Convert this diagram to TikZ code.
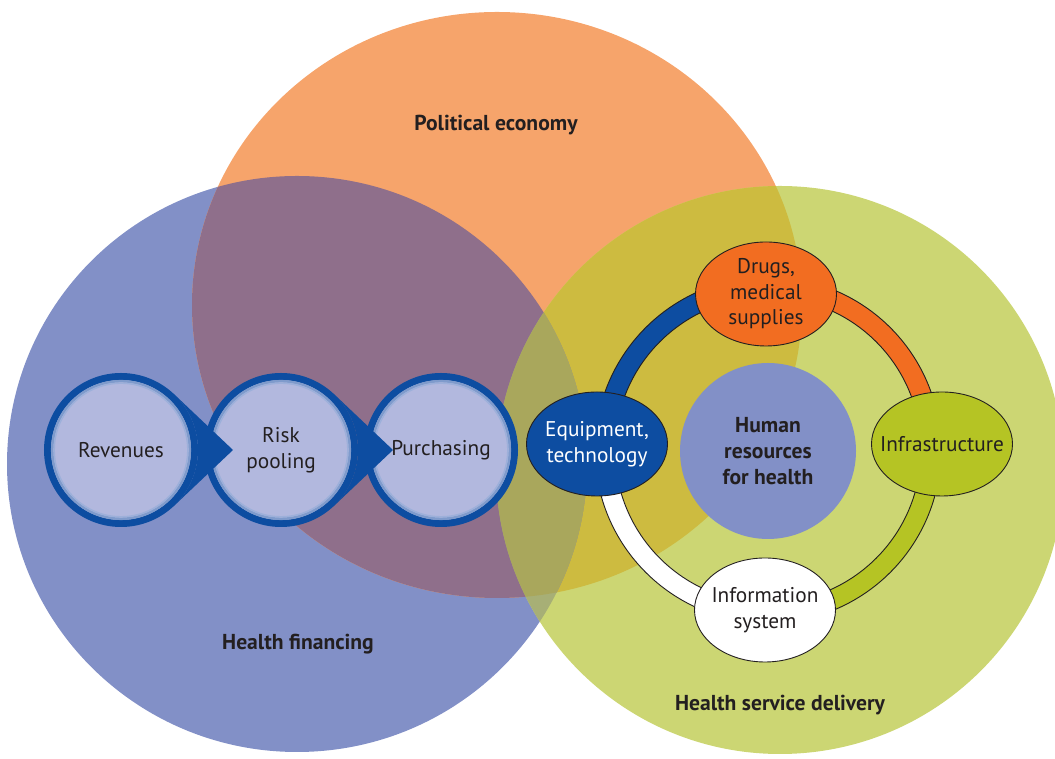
\documentclass[tikz,border=0pt]{standalone}
\usepackage{fontspec}
\setmainfont{PT Sans}
\usetikzlibrary{calc}
\usetikzlibrary{shapes}

\definecolor{finblue}{HTML}{8290C7}
\definecolor{polorange}{HTML}{F6A46B}
\definecolor{delgreen}{HTML}{CCD673}
\definecolor{finpol}{HTML}{8F6F8B}
\definecolor{poldel}{HTML}{CDBB40}
\definecolor{findel}{HTML}{A7AF76}
\definecolor{allthree}{HTML}{A9A75C}
\definecolor{deepblue}{HTML}{0D4DA1}
\definecolor{ringmid}{HTML}{7F9BCC}
\definecolor{ringpale}{HTML}{9DB0DA}
\definecolor{lavender}{HTML}{B2B8DE}
\definecolor{drugorange}{HTML}{F26D21}
\definecolor{infragreen}{HTML}{B5C424}
\definecolor{ink}{HTML}{231F20}

\tikzset{
	stage/.style={circle, fill=lavender, draw=deepblue, line width=7pt, minimum size=147pt, inner sep=0pt, align=center, text=ink, font=\fontsize{21.3}{26}\selectfont},
	pillar/.style={ellipse, draw=ink, line width=0.9pt, minimum width=141pt, minimum height=104pt, inner sep=-14pt, align=center, text=ink, font=\fontsize{21.3}{25.5}\selectfont},
	sphere/.style={text=ink, font=\fontsize{21.6}{26}\selectfont\bfseries}
}

\begin{document}
\begin{tikzpicture}[x=1pt, y=1pt]
	\useasboundingbox (0,0) rectangle (1055,759);
	% the three domains and their overlaps
	\fill[finblue] (297,295) ellipse[x radius=290, y radius=288];
	\fill[polorange] (497,454) ellipse[x radius=305, y radius=293];
	\fill[delgreen] (780,289) circle[radius=284];
	\begin{scope}
		\clip (497,454) ellipse[x radius=305, y radius=293];
		\fill[poldel] (780,289) circle[radius=284];
	\end{scope}
	\begin{scope}
		\clip (297,295) ellipse[x radius=290, y radius=288];
		\fill[finpol] (497,454) ellipse[x radius=305, y radius=293];
		\fill[findel] (780,289) circle[radius=284];
		\clip (497,454) ellipse[x radius=305, y radius=293];
		\fill[allthree] (780,289) circle[radius=284];
	\end{scope}
	\node[sphere] (pol) at (496,634) {Political economy};
	\node[sphere] (fin) at (298,115) {Health financing};
	\node[sphere] (del) at (780,54) {Health service delivery};

	% financing chain
	\node[stage] (rev) at (121,309) {Revenues};
	\node[stage] (pool) at (281,309) {Risk\\pooling};
	\node[stage] (pur) at (441,309) {Purchasing};
	\foreach \s in {rev,pool,pur}{
		\draw[ringmid, line width=2.5pt] (\s) circle[radius=68.8];
		\draw[ringpale, line width=1.5pt] (\s) circle[radius=66.8];
	}
	\foreach \s in {rev,pool}
		\fill[deepblue] ([xshift=112pt]\s.center) -- ([shift={(46.6:77)}]\s.center) arc[start angle=46.6, end angle=-46.6, radius=77] -- cycle;

	% service delivery ring
	\coordinate (hub) at (768,309);
	\foreach \a/\b/\c in {90/180/deepblue, 0/90/drugorange, -90/0/infragreen, -180/-90/white}
		\filldraw[fill=\c, draw=ink, line width=0.9pt] ([shift={(\a:173)}]hub) arc[start angle=\a, end angle=\b, radius=173] -- ([shift={(\b:153)}]hub) arc[start angle=\b, end angle=\a, radius=153] -- cycle;
	\node[circle, fill=finblue, minimum size=176pt, inner sep=0pt, align=center, text=ink, font=\fontsize{21.6}{26}\selectfont\bfseries] (hrh) at (768,308) {Human\\resources\\for health};
	\node[pillar, fill=drugorange] (drugs) at (766,465) {Drugs,\\medical\\supplies};
	\node[pillar, fill=deepblue, text=white] (equip) at (597,315) {Equipment,\\technology};
	\node[pillar, fill=infragreen] (infra) at (942,315) {Infrastructure};
	\node[pillar, fill=white] (info) at (765,149) {Information\\system};
\end{tikzpicture}
\end{document}
